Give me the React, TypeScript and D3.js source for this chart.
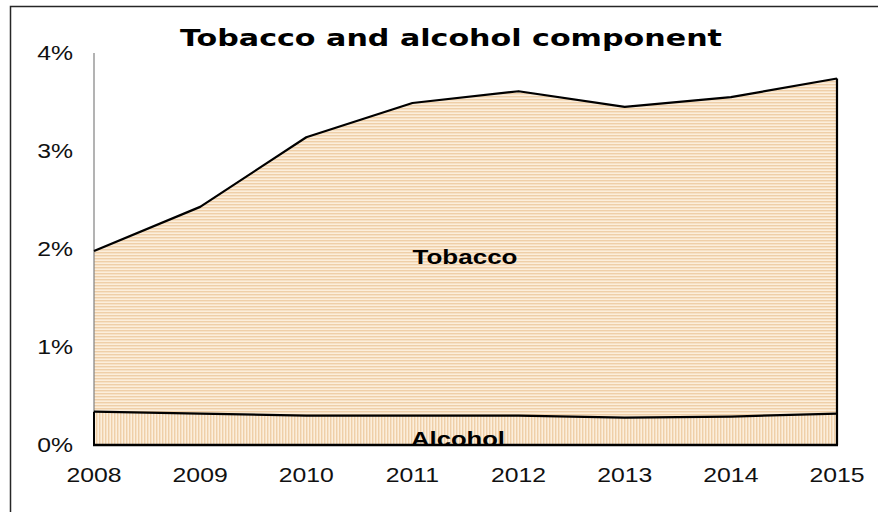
import React from "react";
import * as d3 from "d3";

const years = [2008, 2009, 2010, 2011, 2012, 2013, 2014, 2015];
const alcohol = [0.34, 0.32, 0.3, 0.3, 0.3, 0.28, 0.29, 0.32];
const tobacco = [1.64, 2.11, 2.84, 3.19, 3.31, 3.17, 3.26, 3.42];
const yTicks = [0, 1, 2, 3, 4];
const title = "Tobacco and alcohol component";

const W = 878;
const H = 512;
const left = 94;
const right = 837;
const top = 53;
const bottom = 445;
const SX = 1.24;

export default function App() {
  const x = d3.scaleLinear().domain([2008, 2015]).range([left, right]);
  const y = d3.scaleLinear().domain([0, 4]).range([bottom, top]);

  const data = years.map((yr, i) => ({
    yr,
    a: alcohol[i],
    t: alcohol[i] + tobacco[i],
  }));

  const alcArea = d3
    .area<any>()
    .x((d) => x(d.yr))
    .y0(() => y(0))
    .y1((d) => y(d.a))(data) as string;
  const tobArea = d3
    .area<any>()
    .x((d) => x(d.yr))
    .y0((d) => y(d.a))
    .y1((d) => y(d.t))(data) as string;
  const totLine = d3
    .line<any>()
    .x((d) => x(d.yr))
    .y((d) => y(d.t))(data) as string;
  const alcLine = d3
    .line<any>()
    .x((d) => x(d.yr))
    .y((d) => y(d.a))(data) as string;

  const last = data[data.length - 1];
  const first = data[0];

  return (
    <svg
      width={W}
      height={H}
      style={{ position: "absolute", left: 0, top: 0, background: "#fff" }}
    >
      <defs>
        <pattern id="hstripe" width={6} height={3} patternUnits="userSpaceOnUse">
          <rect width={6} height={3} fill="#FCEEDB" />
          <rect y={0} width={6} height={1.4} fill="#EFCFA8" />
        </pattern>
        <pattern id="vstripe" width={3} height={6} patternUnits="userSpaceOnUse">
          <rect width={3} height={6} fill="#FCEEDB" />
          <rect x={0} width={1.4} height={6} fill="#EFCFA8" />
        </pattern>
      </defs>

      <rect x={10.5} y={6.5} width={900} height={600} fill="none" stroke="#262626" strokeWidth={1.5} />

      <text
        x={451}
        y={46}
        textAnchor="middle"
        fontFamily="DejaVu Sans"
        fontWeight="bold"
        fontSize={23}
        textLength={542}
        lengthAdjust="spacingAndGlyphs"
        fill="#000"
      >
        {title}
      </text>

      <path d={tobArea} fill="url(#hstripe)" />
      <path d={alcArea} fill="url(#vstripe)" />

      <line x1={left} x2={left} y1={top} y2={bottom} stroke="#808080" strokeWidth={1.2} />

      <text
        x={465}
        y={264}
        textAnchor="middle"
        fontFamily="Liberation Sans, Arial"
        fontWeight="bold"
        fontSize={21}
        textLength={105}
        lengthAdjust="spacingAndGlyphs"
      >
        Tobacco
      </text>
      <text
        x={458}
        y={446}
        textAnchor="middle"
        fontFamily="Liberation Sans, Arial"
        fontWeight="bold"
        fontSize={21}
        textLength={94}
        lengthAdjust="spacingAndGlyphs"
      >
        Alcohol
      </text>

      <path d={totLine} fill="none" stroke="#000" strokeWidth={2.2} strokeLinejoin="round" />
      <path d={alcLine} fill="none" stroke="#000" strokeWidth={2.2} />
      <line x1={x(last.yr)} x2={x(last.yr)} y1={y(last.t)} y2={y(0)} stroke="#000" strokeWidth={2.2} />
      <line x1={x(first.yr)} x2={x(first.yr)} y1={y(first.a)} y2={y(0)} stroke="#000" strokeWidth={2} />
      <line x1={left - 1} x2={right + 1} y1={y(0)} y2={y(0)} stroke="#000" strokeWidth={2.4} />

      {yTicks.map((t) => (
        <text
          key={t}
          transform={`translate(73,${y(t) + 7}) scale(${SX},1)`}
          textAnchor="end"
          fontFamily="Liberation Sans, Arial"
          fontSize={20}
          fill="#111"
        >
          {t + "%"}
        </text>
      ))}
      {years.map((yr) => (
        <text
          key={yr}
          transform={`translate(${x(yr)},482) scale(${SX},1)`}
          textAnchor="middle"
          fontFamily="Liberation Sans, Arial"
          fontSize={20}
          fill="#111"
        >
          {yr}
        </text>
      ))}
    </svg>
  );
}
